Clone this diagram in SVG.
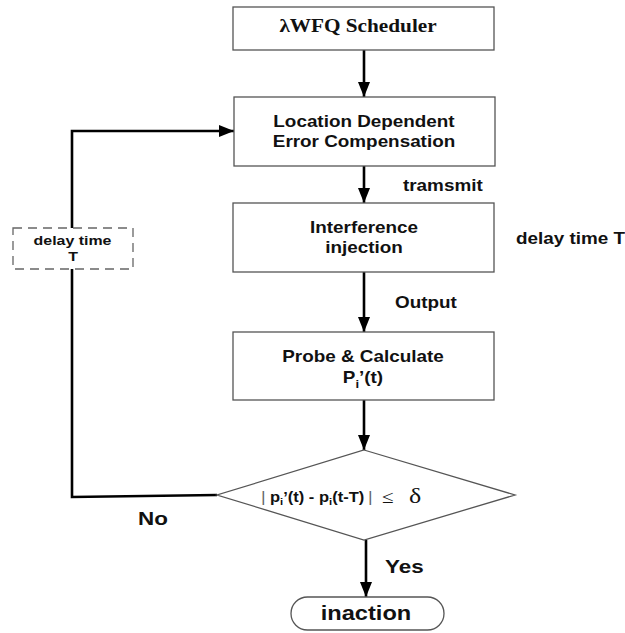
<svg xmlns="http://www.w3.org/2000/svg" width="625" height="633" viewBox="0 0 625 633">
  <defs>
    <marker id="arrow" markerUnits="userSpaceOnUse" markerWidth="15" markerHeight="15" viewBox="0 0 15 12" refX="15" refY="6" orient="auto">
      <path d="M0,0 L15,6 L0,12 Z" fill="#000"/>
    </marker>
    <style>
      .box { fill: #fff; stroke: #555; stroke-width: 1.3; }
      .dash { fill: #fff; stroke: #666; stroke-width: 1.3; stroke-dasharray: 9 6; }
      .wire { fill: none; stroke: #000; stroke-width: 2.6; }
      .arrowed { marker-end: url(#arrow); }
      text { fill: #111; font-family: "Liberation Sans", Arial, sans-serif; font-weight: bold; }
      .serif { font-family: "Liberation Serif", "Times New Roman", serif; }
      .mid { text-anchor: middle; }
      .f16 { font-size: 16px; }
      .thin { font-weight: normal; fill: #666; }
    </style>
  </defs>

  <!-- connectors -->
  <g id="connectors">
    <line class="wire arrowed" x1="364" y1="50" x2="364" y2="97"/>
    <line class="wire arrowed" x1="364" y1="166" x2="364" y2="203"/>
    <line class="wire arrowed" x1="364" y1="272" x2="364" y2="332"/>
    <line class="wire arrowed" x1="364" y1="400" x2="364" y2="450"/>
    <line class="wire arrowed" x1="366" y1="540" x2="366" y2="597"/>
    <polyline class="wire arrowed" points="217,495 72,497 72,131 234,131"/>
  </g>

  <g id="scheduler">
    <rect class="box" x="233" y="7" width="261" height="43"/>
    <text class="serif mid" font-size="18" transform="translate(358,32) scale(1.18,1)">λWFQ Scheduler</text>
  </g>

  <g id="compensation">
    <rect class="box" x="234" y="97" width="261" height="69"/>
    <text class="mid f16" transform="translate(364,127) scale(1.18,1)">Location Dependent</text>
    <text class="mid f16" transform="translate(364,147) scale(1.18,1)">Error Compensation</text>
  </g>

  <text class="f16" transform="translate(403,191) scale(1.18,1)">tramsmit</text>

  <g id="interference">
    <rect class="box" x="233" y="203" width="261" height="69"/>
    <text class="mid f16" transform="translate(364,233) scale(1.18,1)">Interference</text>
    <text class="mid f16" transform="translate(364,253) scale(1.18,1)">injection</text>
  </g>

  <text class="f16" transform="translate(516,244) scale(1.18,1)">delay time T</text>

  <text class="f16" transform="translate(395,308) scale(1.18,1)">Output</text>

  <g id="probe">
    <rect class="box" x="233" y="332" width="261" height="68"/>
    <text class="mid f16" transform="translate(363,362) scale(1.18,1)">Probe &amp; Calculate</text>
    <text class="mid f16" transform="translate(363,383) scale(1.18,1)">P<tspan font-size="11" dy="5">i</tspan><tspan dy="-5">’(t)</tspan></text>
  </g>

  <g id="delay">
    <rect class="dash" x="13" y="228" width="120" height="41"/>
    <text class="mid" font-size="13.5" transform="translate(72.5,245) scale(1.18,1)">delay time</text>
    <text class="mid" font-size="13.5" transform="translate(73,261) scale(1.18,1)">T</text>
  </g>

  <g id="decision">
    <polygon class="box" points="364,450 515,495 364,540 217,495"/>
    <text class="thin" font-size="15" transform="translate(261,502) scale(1.18,1)">|</text>
    <text font-size="14" transform="translate(270,502) scale(1.18,1)">p<tspan font-size="9.5" dy="3">i</tspan><tspan dy="-3">’(t) - p</tspan><tspan font-size="9.5" dy="3">i</tspan><tspan dy="-3">(t-T)</tspan></text>
    <text class="thin" font-size="15" transform="translate(368,502) scale(1.18,1)">|</text>
    <text class="serif thin" font-size="18" transform="translate(382,503) scale(1.18,1)" style="fill:#111">≤</text>
    <text class="serif thin" font-size="22" transform="translate(409,503) scale(1.18,1)" style="fill:#111">δ</text>
  </g>

  <text font-size="19" transform="translate(138,525) scale(1.18,1)">No</text>
  <text font-size="19" transform="translate(385,573) scale(1.18,1)">Yes</text>

  <g id="inaction">
    <rect class="box" x="291" y="597" width="153" height="33" rx="16.5" ry="16.5"/>
    <text class="mid" font-size="20" transform="translate(366,620) scale(1.18,1)">inaction</text>
  </g>
</svg>
